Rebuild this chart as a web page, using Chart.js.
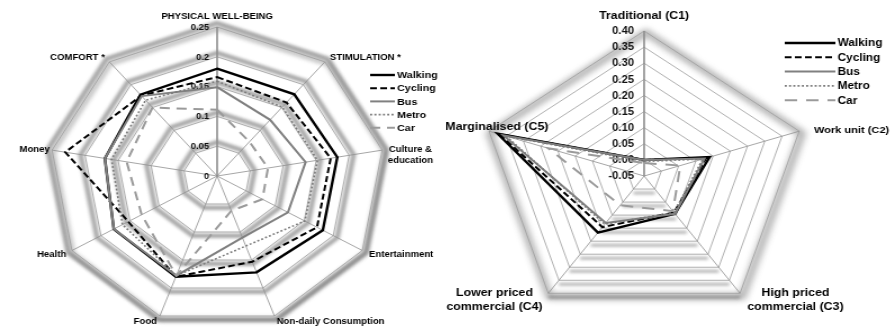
<!DOCTYPE html>
<html>
<head>
<meta charset="utf-8">
<script src="https://cdn.jsdelivr.net/npm/chart.js@4.4.1/dist/chart.umd.min.js"></script>
<style>
  html, body { margin: 0; padding: 0; background: #fff; }
  body { width: 891px; height: 329px; position: relative; overflow: hidden; }
  .wrap { position: absolute; top: 0; width: 396px; height: 329px; transform: scaleX(1.125); transform-origin: 0 0; }
  #leftWrap { left: 0; }
  #rightWrap { left: 445px; }
</style>
</head>
<body>
<div class="wrap" id="leftWrap"><canvas id="domainChart" width="396" height="329"></canvas></div>
<div class="wrap" id="rightWrap"><canvas id="clusterChart" width="396" height="329"></canvas></div>
<script>
// left radar: well-being domains
const domainLabels = ['PHYSICAL WELL-BEING', 'STIMULATION *', ['Culture &', 'education'], 'Entertainment',
  'Non-daily Consumption', 'Food', 'Health', 'Money', 'COMFORT *'];
const domainTicks = [0, 0.05, 0.1, 0.15, 0.2, 0.25];
const walkingDomain = [0.180, 0.179, 0.182, 0.182, 0.172, 0.180, 0.178, 0.170, 0.178];
const cyclingDomain = [0.166, 0.161, 0.172, 0.172, 0.153, 0.180, 0.153, 0.230, 0.176];
const busDomain     = [0.149, 0.123, 0.134, 0.122, 0.110, 0.178, 0.178, 0.170, 0.175];
const metroDomain   = [0.159, 0.151, 0.152, 0.151, 0.125, 0.178, 0.163, 0.160, 0.166];
const carDomain     = [0.111, 0.075, 0.077, 0.078, 0.062, 0.178, 0.130, 0.137, 0.150];

// right radar: neighbourhood clusters
const clusterLabels = ['Traditional (C1)', 'Work unit (C2)', ['High priced', 'commercial (C3)'],
  ['Lower priced', 'commercial (C4)'], 'Marginalised (C5)'];
const clusterTicks = [-0.05, 0, 0.05, 0.10, 0.15, 0.20, 0.25, 0.30, 0.35, 0.40];
const walkingCluster = [0.000, 0.140, 0.095, 0.167, 0.375];
const cyclingCluster = [0.000, 0.130, 0.090, 0.146, 0.370];
const busCluster     = [0.000, 0.125, 0.095, 0.130, 0.358];
const metroCluster   = [-0.005, 0.120, 0.090, 0.135, 0.350];
const carCluster     = [-0.010, 0.055, 0.085, 0.062, 0.228];

const modeNames = ['Walking', 'Cycling', 'Bus', 'Metro', 'Car'];

const FONT = "'Liberation Sans', Arial, sans-serif";

function modeSets(values, wide) {
  const styles = [
    { borderColor: '#000000', borderWidth: 2.4, borderDash: [] },
    { borderColor: '#000000', borderWidth: 2, borderDash: [6, 3] },
    { borderColor: '#808080', borderWidth: 2, borderDash: [] },
    { borderColor: '#7a7a7a', borderWidth: 1.6, borderDash: [1.8, 2] },
    { borderColor: '#9a9a9a', borderWidth: 2, borderDash: wide ? [11, 8] : [9, 6] }
  ];
  return values.map((v, k) => Object.assign({
    label: modeNames[k],
    data: v,
    fill: false,
    pointRadius: 0,
    order: 5 - k
  }, styles[k]));
}

function ringPath(ctx, scale, n, dist) {
  ctx.beginPath();
  for (let i = 0; i < n; i++) {
    const p = scale.getPointPosition(i, dist);
    if (i === 0) ctx.moveTo(p.x, p.y); else ctx.lineTo(p.x, p.y);
  }
  ctx.closePath();
}

// grid shading, tick labels, point labels and legend
function decor(cfg) {
  return {
    id: 'decor',
    beforeDraw(chart) {
      const ctx = chart.ctx, scale = chart.scales.r, n = chart.data.labels.length;
      ctx.save();
      ctx.filter = 'blur(' + cfg.bandBlur + 'px)';
      ctx.strokeStyle = cfg.bandColor;
      ctx.lineWidth = cfg.bandWidth;
      scale.ticks.forEach(t => {
        const d = scale.getDistanceFromCenterForValue(t.value);
        if (d < 1) return;
        if (cfg.floorOnly) {
          for (let i = 0; i < n; i++) {
            const a = scale.getPointPosition(i, d), b = scale.getPointPosition((i + 1) % n, d);
            if (Math.abs(a.y - b.y) < 1) {
              ctx.beginPath();
              ctx.moveTo(a.x, a.y + cfg.bandShift);
              ctx.lineTo(b.x, b.y + cfg.bandShift);
              ctx.stroke();
            }
          }
        } else {
          ringPath(ctx, scale, n, d + cfg.bandShift);
          ctx.stroke();
        }
      });
      // outer glow
      ctx.filter = 'blur(' + cfg.glowBlur + 'px)';
      ctx.strokeStyle = cfg.glowColor;
      ctx.lineWidth = cfg.glowWidth;
      ctx.translate(1.5, 2.5);
      ringPath(ctx, scale, n, scale.drawingArea + 1);
      ctx.stroke();
      ctx.restore();
    },
    beforeDatasetsDraw(chart) {
      const ctx = chart.ctx, scale = chart.scales.r;
      ctx.save();
      ctx.fillStyle = '#111';
      ctx.font = 'bold ' + cfg.tickSize + 'px ' + FONT;
      ctx.textAlign = 'right';
      ctx.textBaseline = 'middle';
      scale.ticks.forEach(t => {
        const y = scale.yCenter - scale.getDistanceFromCenterForValue(t.value);
        ctx.fillText(cfg.tickFmt(t.value), scale.xCenter - cfg.tickGap, y + 0.5);
      });
      ctx.restore();
    },
    afterDraw(chart) {
      const ctx = chart.ctx, scale = chart.scales.r;
      ctx.save();
      ctx.fillStyle = '#000';
      ctx.textBaseline = 'middle';
      chart.data.labels.forEach((lab, i) => {
        const v = scale.getPointPosition(i, scale.drawingArea);
        const [dx, dy, align] = cfg.labelPlace[i];
        const lines = Array.isArray(lab) ? lab : [lab];
        let size = cfg.labelSize;
        ctx.font = 'bold ' + size + 'px ' + FONT;
        let w = Math.max(...lines.map(s => ctx.measureText(s).width));
        const x = v.x + dx;
        let left = align === 'left' ? x : align === 'right' ? x - w : x - w / 2;
        // keep labels inside the canvas
        if (left + w > chart.width - 1) {
          size = size * (chart.width - 1 - left) / w;
          ctx.font = 'bold ' + size + 'px ' + FONT;
          w = Math.max(...lines.map(s => ctx.measureText(s).width));
        }
        ctx.textAlign = 'center';
        lines.forEach((s, j) => ctx.fillText(s, left + w / 2, v.y + dy + j * cfg.lineGap));
      });
      // legend
      ctx.font = 'bold ' + cfg.legendSize + 'px ' + FONT;
      ctx.textAlign = 'left';
      chart.data.datasets.forEach((ds, k) => {
        const y = cfg.legend.y + k * cfg.legend.step;
        ctx.save();
        ctx.strokeStyle = ds.borderColor;
        ctx.lineWidth = ds.borderWidth;
        ctx.setLineDash(ds.borderDash);
        ctx.beginPath();
        ctx.moveTo(cfg.legend.x0, y);
        ctx.lineTo(cfg.legend.x1, y);
        ctx.stroke();
        ctx.restore();
        ctx.fillText(ds.label, cfg.legend.x1 + 2, y + 0.5);
      });
      ctx.restore();
    }
  };
}

function radarOptions(ticks, pad) {
  return {
    responsive: false,
    animation: false,
    devicePixelRatio: 1,
    layout: { padding: pad },
    plugins: { legend: { display: false }, tooltip: { enabled: false } },
    elements: { line: { tension: 0, borderJoinStyle: 'miter' } },
    scales: {
      r: {
        min: ticks[0],
        max: ticks[ticks.length - 1],
        ticks: { stepSize: ticks[1] - ticks[0], display: false },
        pointLabels: { display: false },
        grid: { color: '#9c9c9c', lineWidth: 0.8 },
        angleLines: { color: '#8f8f8f', lineWidth: c => c.index === 0 ? 1.6 : 0.8 }
      }
    }
  };
}

new Chart(document.getElementById('domainChart'), {
  type: 'radar',
  data: {
    labels: domainLabels,
    datasets: modeSets([walkingDomain, cyclingDomain, busDomain, metroDomain, carDomain], false)
  },
  options: radarOptions(domainTicks, { left: 44, right: 54, top: 27, bottom: 4 }),
  plugins: [decor({
    bandBlur: 1.8, bandColor: 'rgba(110,110,110,0.6)', bandWidth: 4.5, bandShift: 4, floorOnly: false,
    glowBlur: 2, glowColor: 'rgba(90,90,90,0.45)', glowWidth: 4,
    tickSize: 8.5, tickGap: 7, tickFmt: v => String(Math.round(v * 100) / 100),
    labelSize: 8.5, lineGap: 11,
    labelPlace: [[0, -10, 'center'], [4.5, -4, 'left'], [5, 0, 'left'], [6, 4.5, 'left'], [2, 6, 'left'],
      [-2.5, 6, 'right'], [-5, 4.5, 'right'], [-2, 0, 'right'], [-4, -4, 'right']],
    legendSize: 9.5, legend: { x0: 329, x1: 351, y: 75, step: 13.2 }
  })]
});

new Chart(document.getElementById('clusterChart'), {
  type: 'radar',
  data: {
    labels: clusterLabels,
    datasets: modeSets([walkingCluster, cyclingCluster, busCluster, metroCluster, carCluster], true)
  },
  options: radarOptions(clusterTicks, { left: 32, right: 74, top: 31, bottom: 8 }),
  plugins: [decor({
    bandBlur: 1.4, bandColor: 'rgba(110,110,110,0.5)', bandWidth: 3, bandShift: 4, floorOnly: true,
    glowBlur: 3, glowColor: 'rgba(80,80,80,0.5)', glowWidth: 6,
    tickSize: 10, tickGap: 9, tickFmt: v => v.toFixed(2),
    labelSize: 11, lineGap: 14,
    labelPlace: [[0, -15, 'center'], [13, -1, 'left'], [6.5, 0, 'left'], [-5, 0, 'right'], [7, -4, 'center']],
    legendSize: 10.5, legend: { x0: 302, x1: 347, y: 43, step: 14.3 }
  })]
});
</script>
</body>
</html>
